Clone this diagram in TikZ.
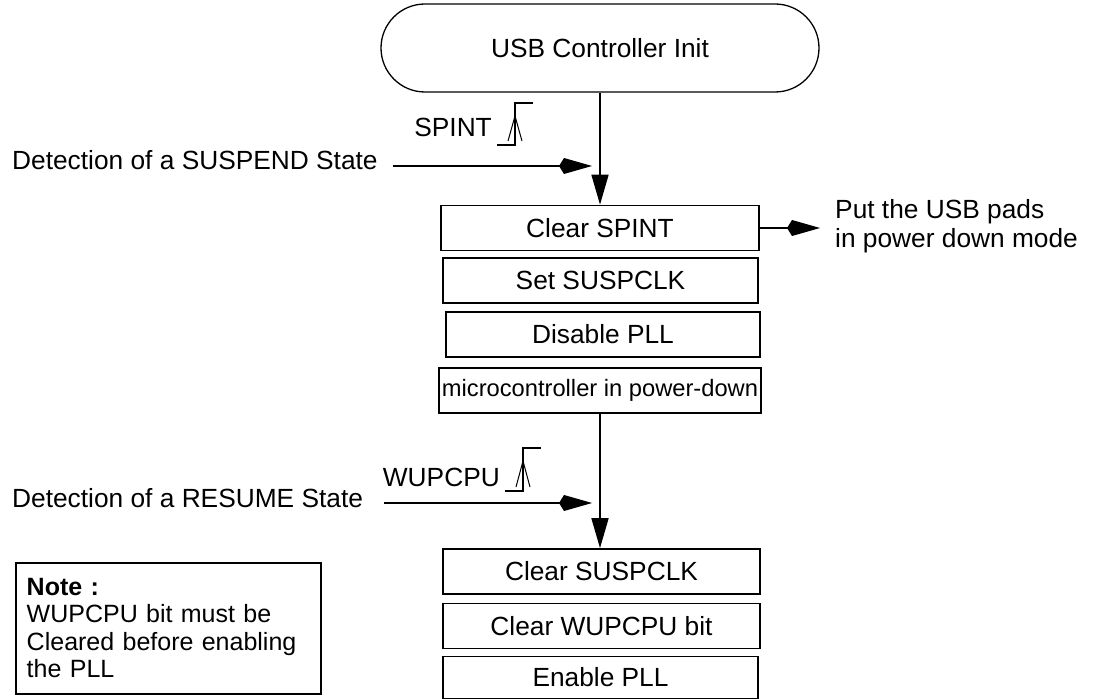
\documentclass[tikz,border=0pt]{standalone}
\usepackage{fontspec}
\setmainfont{Liberation Sans}
\usetikzlibrary{arrows.meta}
\begin{document}
\begin{tikzpicture}[x=1pt,y=-1pt,
  every node/.style={font=\fontsize{26.3}{29}\selectfont, inner sep=0pt},
  procbox/.style={draw, line width=1.7pt, minimum height=45pt},
  term/.style={draw, line width=1.3pt, rounded corners=44pt, minimum width=438pt, minimum height=88pt},
  notebox/.style={draw, line width=1.5pt, align=left, text width=283pt, inner xsep=11pt, inner ysep=0pt, minimum height=131pt, anchor=north west, font=\fontsize{25}{27.5}\selectfont},
  flow/.style={line width=1.7pt, -{Triangle[length=30pt,width=17pt]}},
  side/.style={line width=1.7pt, -{Kite[length=33pt,width=16pt,inset=5pt]}},
  sig/.style={line width=1.4pt},
  sigarrow/.style={line width=1pt}]
\useasboundingbox (0,0) rectangle (1097,700);

% terminator
\node[term] (init) at (600,48) {USB Controller Init};

% suspend boxes
\node[procbox, minimum width=318pt] (sp) at (600,228) {Clear SPINT};
\node[procbox, minimum width=315pt] (ss) at (600.5,280.5) {Set SUSPCLK};
\node[procbox, minimum width=314pt] (dp) at (603,334.5) {Disable PLL};
\node[procbox, minimum width=322pt, font=\fontsize{23.7}{26}\selectfont] (mc) at (600,390.5) {microcontroller in power-down};

% resume boxes
\node[procbox, minimum width=317pt] (cs) at (601.5,571.5) {Clear SUSPCLK};
\node[procbox, minimum width=317pt] (cw) at (601.5,626) {Clear WUPCPU bit};
\node[procbox, minimum width=315pt, minimum height=42pt] (ep) at (600.5,677.5) {Enable PLL};

% main flow
\draw[flow] (init.south) -- (init.south |- sp.north);
\draw[flow] (mc.south -| init.south) -- (init.south |- cs.north);

% suspend detection
\node[anchor=base east] (spint) at (492,137) {SPINT};
\draw[sig] (497,145) -- (515,145) -- (515,103) -- (533,103);
\draw[sigarrow] (508,141) -- (515,116) -- (522,141);
\node[anchor=west] (dsusp) at (12,160) {Detection of a SUSPEND State};
\coordinate (suspend) at (592,166);
\draw[side] (393,166) -- (suspend);

% resume detection
\node[anchor=base east] (wupcpu) at (500,486) {WUPCPU};
\draw[sig] (505,491) -- (523,491) -- (523,448) -- (541,448);
\draw[sigarrow] (516,487) -- (523,461) -- (530,487);
\node[anchor=west] (dres) at (12,498) {Detection of a RESUME State};
\coordinate (resume) at (592,503);
\draw[side] (384,503) -- (resume);

% pads
\node[anchor=west, align=left] (pads) at (835,226) {Put the USB pads\\in power down mode};
\draw[side] (sp.east) -- (sp.east -| pads.west) [shorten >=15pt];

% note
\node[notebox] (note) at (15,562) {\textbf{Note :}\\WUPCPU bit must be\\Cleared before enabling\\the PLL};
\end{tikzpicture}
\end{document}
